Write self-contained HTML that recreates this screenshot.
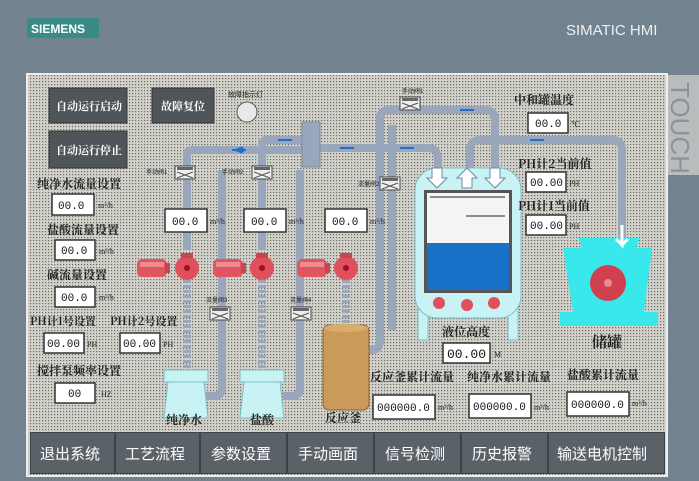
<!DOCTYPE html>
<html><head><meta charset="utf-8"><style>
body{margin:0;width:699px;height:481px;overflow:hidden;background:#72838f;font-family:"Liberation Sans","Noto Sans CJK SC",sans-serif}
svg{position:absolute;left:0;top:0}
.t{font-family:"Noto Serif CJK SC","WenQuanYi Zen Hei",serif;font-weight:bold;fill:#222}
.bt{font-family:"Noto Sans CJK SC","WenQuanYi Zen Hei",sans-serif;fill:#fff;font-size:15px}
.io{fill:#fff;stroke:#333;stroke-width:1.5}
.v{font-family:"Liberation Mono",monospace;font-size:11px;fill:#111}
.u{font-size:8px;fill:#222;font-family:"Liberation Serif",serif}
.p{fill:none;stroke:#9aa6bb;stroke-width:8;stroke-linejoin:round}
.sm{font-size:6px;fill:#222}
</style></head><body>
<svg width="699" height="481" viewBox="0 0 699 481">
<defs>
<pattern id="d" width="3" height="3" patternUnits="userSpaceOnUse"><rect width="3" height="3" fill="#d2d2ca"/><rect width="1.2" height="1.2" fill="#6a6a6a"/></pattern>
<g id="valve"><rect x="0" y="0" width="20" height="13" fill="#eee" stroke="#444"/><rect x="2" y="1" width="16" height="3" fill="#666"/><path d="M2 6 L18 12 M2 12 L18 6" stroke="#555"/></g>
<g id="motor"><rect x="0" y="0" width="30" height="18" rx="5" fill="#e05560"/><rect x="3" y="3" width="24" height="5" fill="#f08a90"/><rect x="28" y="4" width="5" height="10" fill="#c84650"/></g>
<g id="pump"><circle r="12" fill="#e0505c"/><circle r="3" fill="#a01020"/><rect x="-6" y="-15" width="12" height="5" fill="#c84650"/></g>
</defs>
<rect x="0" y="0" width="699" height="481" fill="#72838f"/>
<rect x="27" y="18" width="72" height="20" fill="#3a8a88"/>
<text x="31" y="33" font-size="12" font-weight="bold" fill="#fff" font-family="Liberation Sans">SIEMENS</text>
<text x="566" y="35" font-size="15" fill="#f0f0f0" font-family="Liberation Sans">SIMATIC HMI</text>
<rect x="667" y="75" width="32" height="100" fill="#b8bcbc"/>
<text x="671" y="82" font-size="26" fill="#8b9397" transform="rotate(90 671 82)" font-family="Liberation Sans">TOUCH</text>
<rect x="27" y="74" width="640" height="402" fill="url(#d)" stroke="#eee" stroke-width="2"/>

<!-- pipes -->
<path class="p" d="M187 250 V155 Q187 150 192 150 H305"/>
<path class="p" d="M262 250 V145 Q262 140 267 140 H305"/>
<path class="p" d="M222 170 V388 Q222 396 214 396 H205"/>
<path class="p" d="M300 170 V388 Q300 396 292 396 H283"/>
<path class="p" d="M320 148 H428 Q438 148 438 160 V175"/>
<path class="p" d="M368 350 H372 Q380 350 380 340 V118 Q380 110 390 110 H485 Q495 110 495 120 V175"/>
<path class="p" d="M392 330 V125"/>
<path class="p" d="M470 175 V150 Q470 140 480 140 H612 Q622 140 622 150 V240"/>
<path class="p" d="M187 280 V370 M262 280 V370 M346 280 V325" stroke="#8a96a8" stroke-dasharray="3 2"/>
<rect x="302" y="122" width="18" height="45" fill="#9aa6bb" stroke="#7d889a"/>
<g fill="#1f6fd0"><path d="M232 150 h12 l-3 -3 M232 150 h12 l-3 3" stroke="#1f6fd0" stroke-width="2"/><path d="M278 140 h14" stroke="#1f6fd0" stroke-width="2"/><path d="M340 148 h14 M460 110 h14 M400 148 h14 M530 140 h14" stroke="#1f6fd0" stroke-width="2"/></g>

<!-- valves -->
<use href="#valve" x="175" y="166"/><use href="#valve" x="252" y="166"/>
<use href="#valve" x="210" y="307"/><use href="#valve" x="291" y="307"/>
<use href="#valve" x="380" y="177"/><use href="#valve" x="400" y="97"/>
<text class="sm" x="146" y="174">手动阀1</text><text class="sm" x="222" y="174">手动阀2</text>
<text class="sm" x="206" y="302">流量阀3</text><text class="sm" x="290" y="302">流量阀4</text>
<text class="sm" x="358" y="186">流量阀2</text><text class="sm" x="402" y="93">手动阀1</text>

<!-- pumps -->
<use href="#motor" x="137" y="259"/><use href="#pump" x="187" y="268"/>
<use href="#motor" x="213" y="259"/><use href="#pump" x="262" y="268"/>
<use href="#motor" x="297" y="259"/><use href="#pump" x="346" y="268"/>

<!-- flasks -->
<g fill="#c8f2f4" stroke="#7bbfc8"><rect x="164" y="370" width="44" height="12"/><path d="M168 382 H204 L208 418 H164 Z"/>
<rect x="240" y="370" width="44" height="12"/><path d="M244 382 H280 L284 418 H240 Z"/></g>
<rect x="323" y="325" width="46" height="85" rx="6" fill="#c99a5a" stroke="#8a6430"/>
<ellipse cx="346" cy="328" rx="22" ry="4" fill="#d8ac6a"/>

<!-- main tank -->
<rect x="418" y="300" width="10" height="40" fill="#c8f2f4" stroke="#7bbfc8"/><rect x="508" y="300" width="10" height="40" fill="#c8f2f4" stroke="#7bbfc8"/>
<rect x="415" y="168" width="106" height="150" rx="22" fill="#c8f2f4" stroke="#7bbfc8"/>
<rect x="424" y="190" width="88" height="103" fill="#555"/>
<rect x="427" y="193" width="82" height="50" fill="#f4f4f4"/>
<rect x="427" y="243" width="82" height="47" fill="#1a72c8"/>
<path d="M430 197 H505 M466 216 H505" stroke="#222"/>
<g fill="#fff" stroke="#6a8aa0"><path d="M432 168 h10 v10 h5 l-10 10 l-10 -10 h5z"/><path d="M462 188 v-10 h-5 l10 -10 l10 10 h-5 v10z"/><path d="M490 168 h10 v10 h5 l-10 10 l-10 -10 h5z"/></g>
<g fill="#e0505c"><circle cx="439" cy="303" r="6"/><circle cx="467" cy="305" r="6"/><circle cx="494" cy="303" r="6"/></g>

<!-- storage -->
<path d="M578 238 H640 L636 248 H582Z" fill="#38e8ea"/>
<path d="M563 248 H652 L644 312 H573Z" fill="#38e8ea"/>
<rect x="560" y="312" width="98" height="14" fill="#38e8ea"/>
<circle cx="608" cy="283" r="18" fill="#d04050"/><circle cx="608" cy="283" r="4" fill="#f08a90"/>
<path d="M622 225 V245 l-6 -6 M622 245 l6 -6" stroke="#fff" stroke-width="3" fill="none"/>

<!-- buttons -->
<g fill="#4f5559" stroke="#333"><rect x="49" y="88" width="78" height="35"/><rect x="49" y="131" width="78" height="37"/><rect x="152" y="88" width="62" height="35"/></g>
<g font-size="11" fill="#fff" class="t" style="fill:#fff"><text x="56" y="110">自动运行启动</text><text x="56" y="154">自动运行停止</text><text x="161" y="110">故障复位</text></g>
<text class="sm" x="228" y="97" style="font-size:7px">故障指示灯</text>
<circle cx="247" cy="112" r="10" fill="#e8e8e8" stroke="#555"/>

<!-- labels -->
<g class="t" font-size="12">
<text x="37" y="188">纯净水流量设置</text><text x="47" y="234">盐酸流量设置</text><text x="47" y="279">碱流量设置</text>
<text x="30" y="325" font-size="11">PH计1号设置</text><text x="110" y="325" font-size="11">PH计2号设置</text>
<text x="37" y="375">搅拌泵频率设置</text>
<text x="514" y="104">中和罐温度</text><text x="518" y="168">PH计2当前值</text><text x="518" y="210">PH计1当前值</text>
<text x="442" y="336">液位高度</text><text x="592" y="347" font-size="15">储罐</text>
<text x="370" y="381">反应釜累计流量</text><text x="467" y="381">纯净水累计流量</text><text x="567" y="379">盐酸累计流量</text>
<text x="166" y="424">纯净水</text><text x="250" y="424">盐酸</text><text x="325" y="422">反应釜</text>
</g>

<!-- IO fields -->
<g class="io">
<rect x="52" y="194" width="42" height="21"/><rect x="55" y="240" width="40" height="20"/><rect x="55" y="287" width="40" height="20"/>
<rect x="44" y="333" width="40" height="20"/><rect x="120" y="333" width="40" height="20"/><rect x="55" y="383" width="40" height="20"/>
<rect x="165" y="209" width="42" height="23"/><rect x="244" y="209" width="42" height="23"/><rect x="325" y="209" width="42" height="23"/>
<rect x="528" y="113" width="40" height="20"/><rect x="526" y="172" width="40" height="20"/><rect x="526" y="215" width="40" height="20"/>
<rect x="443" y="343" width="47" height="20"/>
<rect x="373" y="395" width="62" height="24"/><rect x="469" y="394" width="62" height="24"/><rect x="567" y="392" width="62" height="24"/>
</g>
<g class="v">
<text x="58" y="209">00.0</text><text x="61" y="254">00.0</text><text x="61" y="301">00.0</text>
<text x="47" y="347">00.00</text><text x="123" y="347">00.00</text><text x="68" y="397">00</text>
<text x="172" y="225">00.0</text><text x="251" y="225">00.0</text><text x="332" y="225">00.0</text>
<text x="535" y="127">00.0</text><text x="530" y="186">00.00</text><text x="530" y="229">00.00</text>
<text x="447" y="358" font-size="13">00.00</text>
<text x="377" y="411">000000.0</text><text x="473" y="410">000000.0</text><text x="571" y="408">000000.0</text>
</g>
<g class="u">
<text x="98" y="208">m³/h</text><text x="99" y="254">m³/h</text><text x="99" y="300">m³/h</text>
<text x="87" y="347">PH</text><text x="163" y="347">PH</text><text x="101" y="397">HZ</text>
<text x="210" y="224">m³/h</text><text x="289" y="224">m³/h</text><text x="370" y="224">m³/h</text>
<text x="571" y="127">℃</text><text x="569" y="186">PH</text><text x="569" y="229">PH</text><text x="494" y="357">M</text>
<text x="438" y="410">m³/h</text><text x="534" y="410">m³/h</text><text x="632" y="406">m³/h</text>
</g>

<!-- bottom bar -->
<rect x="30" y="432" width="635" height="42" fill="#3c4348"/>
<g fill="#5a6167">
<rect x="31" y="433" width="83" height="40"/><rect x="116" y="433" width="83" height="40"/><rect x="201" y="433" width="85" height="40"/><rect x="288" y="433" width="85" height="40"/><rect x="375" y="433" width="85" height="40"/><rect x="462" y="433" width="85" height="40"/><rect x="549" y="433" width="115" height="40"/>
</g>
<g class="bt">
<text x="40" y="459">退出系统</text><text x="125" y="459">工艺流程</text><text x="211" y="459">参数设置</text><text x="298" y="459">手动画面</text><text x="385" y="459">信号检测</text><text x="472" y="459">历史报警</text><text x="557" y="459">输送电机控制</text>
</g>
</svg>
</body></html>
